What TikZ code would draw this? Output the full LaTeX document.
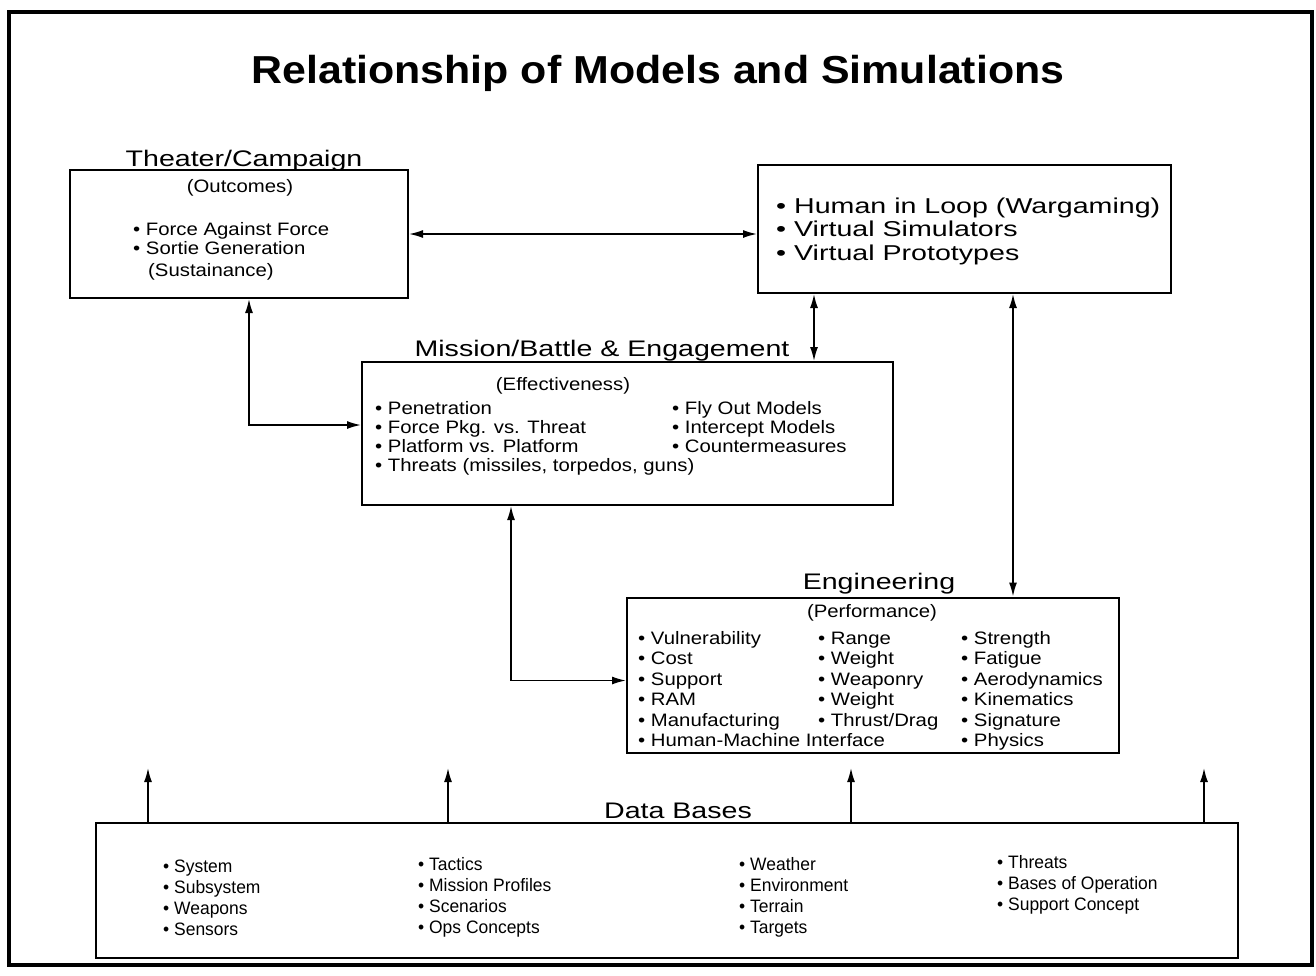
\documentclass[tikz,border=0pt]{standalone}
\usepackage{fontspec}
\setmainfont{Liberation Sans}
\newfontfamily\titlef[FakeStretch=1.1]{Liberation Sans}
\newfontfamily\labf[FakeStretch=1.27]{Liberation Sans}
\newfontfamily\humf[FakeStretch=1.33]{Liberation Sans}
\newfontfamily\smf[FakeStretch=1.13]{Liberation Sans}
\newfontfamily\dbf[FakeStretch=0.97]{Liberation Sans}
\usetikzlibrary{arrows.meta,calc}
\tikzset{
  box/.style={draw, line width=2pt, inner sep=0pt, rectangle},
  ttl/.style={font=\titlef\bfseries\fontsize{39}{44}\selectfont, inner sep=0pt, anchor=base},
  lab/.style={font=\labf\fontsize{22.5}{26}\selectfont, inner sep=0pt, anchor=base},
  hum/.style={font=\humf\fontsize{21.5}{25}\selectfont, inner sep=0pt, anchor=base west},
  sm/.style={font=\smf\fontsize{18}{20}\selectfont, inner sep=0pt, anchor=base west},
  smc/.style={sm, anchor=base},
  db/.style={font=\dbf\fontsize{18}{20}\selectfont, inner sep=0pt, anchor=base west},
  link/.style={line width=1.6pt, {Latex[length=14pt,width=8pt]}-{Latex[length=14pt,width=8pt]}},
  upar/.style={line width=1.6pt, -{Latex[length=14pt,width=8pt]}},
}
\begin{document}
\begin{tikzpicture}[x=1pt,y=-1pt]
\useasboundingbox (0,0) rectangle (1316,975);
\draw[line width=3.5pt] (9,12) rectangle (1312,965);

% title
\node[ttl] (title) at (658,83) {Relationship of Models and Simulations};

% boxes
\node[box, minimum width=338pt, minimum height=128pt] (th) at (239,234) {};
\node[box, minimum width=413pt, minimum height=128pt] (hu) at (964.5,229) {};
\node[box, minimum width=531pt, minimum height=143pt] (mi) at (627.5,433.5) {};
\node[box, minimum width=492pt, minimum height=155pt] (en) at (873,675) {};
\node[box, minimum width=1142pt, minimum height=135pt] (db) at (667,890.5) {};

% labels
\node[lab] (thl) at (244,166) {Theater/Campaign};
\node[lab] (mil) at (602,356) {Mission/Battle \& Engagement};
\node[lab] (enl) at (879,589) {Engineering};
\node[lab] (dbl) at (678,818) {Data Bases};

% theater text
\node[smc] (tho) at (240,192) {(Outcomes)};
\foreach \t [count=\i] in {• Force Against Force, • Sortie Generation}
  \node[sm, name=thA\i] at (133,{235+19*(\i-1)}) {\t};
\node[sm] (ths) at (148,276) {(Sustainance)};

% human text
\foreach \t [count=\i] in {• Human in Loop (Wargaming), • Virtual Simulators, • Virtual Prototypes}
  \node[hum, name=huA\i] at (776,{213+23.5*(\i-1)}) {\t};

% mission text
\node[smc] (mie) at (563,390) {(Effectiveness)};
\foreach \t [count=\i] in {• Penetration, • Force Pkg. vs. Threat, • Platform vs. Platform, {• Threats (missiles, torpedos, guns)}}
  \node[sm, name=miA\i] at (375,{414+19*(\i-1)}) {\t};
\foreach \t [count=\i] in {• Fly Out Models, • Intercept Models, • Countermeasures}
  \node[sm, name=miB\i] at (672,{414+19*(\i-1)}) {\t};

% engineering text
\node[smc] (enp) at (872,617) {(Performance)};
\foreach \t [count=\i] in {• Vulnerability, • Cost, • Support, • RAM, • Manufacturing, • Human-Machine Interface}
  \node[sm, name=enA\i] at (638,{644+20.5*(\i-1)}) {\t};
\foreach \t [count=\i] in {• Range, • Weight, • Weaponry, • Weight, • Thrust/Drag}
  \node[sm, name=enB\i] at (818,{644+20.5*(\i-1)}) {\t};
\foreach \t [count=\i] in {• Strength, • Fatigue, • Aerodynamics, • Kinematics, • Signature, • Physics}
  \node[sm, name=enC\i] at (961,{644+20.5*(\i-1)}) {\t};

% data bases text
\foreach \t [count=\i] in {• System, • Subsystem, • Weapons, • Sensors}
  \node[db, name=dbA\i] at (163,{872+21*(\i-1)}) {\t};
\foreach \t [count=\i] in {• Tactics, • Mission Profiles, • Scenarios, • Ops Concepts}
  \node[db, name=dbB\i] at (418,{870+21*(\i-1)}) {\t};
\foreach \t [count=\i] in {• Weather, • Environment, • Terrain, • Targets}
  \node[db, name=dbC\i] at (739,{870+21*(\i-1)}) {\t};
\foreach \t [count=\i] in {• Threats, • Bases of Operation, • Support Concept}
  \node[db, name=dbD\i] at (997,{868+21*(\i-1)}) {\t};

% connectors
\draw[link] (th.east) -- (th.east -| hu.west);
\draw[link] ([xshift=10pt]th.south) |- ([yshift=8.5pt]mi.west);
\coordinate (c1) at ([xshift=-80pt]mi.north east);
\draw[link] (c1 |- hu.south) -- (c1);
\coordinate (c2) at ([xshift=-107pt]en.north east);
\draw[link] (c2 |- hu.south) -- (c2);
\draw[link] ([xshift=150pt]mi.south west) |- ([yshift=-5.5pt]en.west);
\foreach \xx [count=\i] in {148,448,851,1204} {
  \coordinate (up\i) at (\xx,768);
  \draw[upar] (up\i |- db.north) -- (up\i);
}
\end{tikzpicture}
\end{document}
